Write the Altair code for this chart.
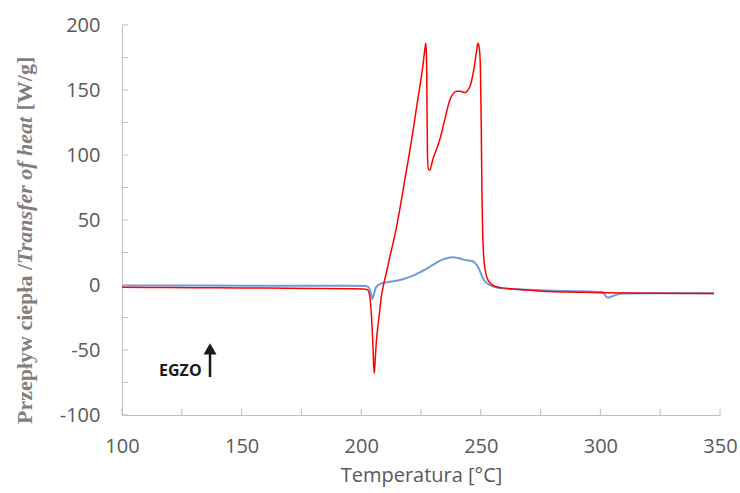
import altair as alt
import pandas as pd

# ---- data ----
red_t = [100, 120, 140, 160, 180, 195, 201, 202.5, 203.3, 204.3, 204.9, 205.4, 205.9, 206.4,
         207.1, 207.8, 208.4, 209.2, 210.6, 212.0, 213.3, 214.7, 216.1, 217.5, 218.9, 220.3,
         221.7, 223.1, 224.5, 225.6, 226.6, 227.0, 227.3, 227.5, 227.7, 228.1, 228.7, 230.0,
         231.4, 232.8, 234.9, 237.0, 238.4, 239.8, 241.5, 243.3, 244.4, 245.4, 246.5, 247.5,
         248.3, 248.8, 249.3, 249.8, 250.2, 250.5, 250.8, 251.2, 252.0, 253.0, 254.5, 256.5,
         260, 265, 270, 278.8, 290, 300, 310, 325, 347.5]
red_v = [-1.8, -2.0, -2.2, -2.4, -2.6, -2.8, -3.0, -3.6, -6, -24, -46, -68, -56, -42,
         -30, -19, -9, -1, 10, 21.8, 32, 44, 57.7, 73, 88, 103,
         119, 136, 152.5, 166, 181, 186, 176, 140, 100, 89, 88.5, 97,
         104, 111.5, 127, 142, 147, 149, 149, 148, 149.5, 152.5, 160, 170.5,
         181, 186, 183, 170, 120, 68, 40, 21.8, 10, 3.8, 0.5, -1.3,
         -2.4, -3.2, -3.9, -5.0, -5.5, -5.9, -6.2, -6.3, -6.5]

blue_t = [100, 130, 160, 190, 201.8, 203.0, 203.8, 204.7, 205.3, 206.0, 207.0, 208.5, 211,
          214.7, 218, 221.7, 225, 228.7, 231.5, 234.2, 236.5, 238.4, 240.5, 242.6, 244.8,
          246.7, 247.8, 248.8, 249.9, 250.9, 252.2, 253.7, 256, 259.3, 263.5, 270, 280, 290,
          301.0, 301.8, 302.9, 304.5, 306.5, 309.4, 320, 335, 347.5]
blue_v = [-0.3, -0.4, -0.5, -0.6, -0.7, -1.5, -4.5, -10.8, -7, -2.5, -0.3, 1.2, 2.2,
          3.2, 4.8, 7.2, 10.2, 14, 17.2, 19.7, 21, 21.4, 20.8, 19.7, 18.9,
          18.3, 16.5, 14, 9.5, 5.2, 2, 0, -1.6, -2.6, -3.1, -3.7, -4.4, -4.9,
          -5.4, -7.5, -9.7, -9.0, -7.6, -6.5, -6.3, -6.3, -6.4]

x_ticks = [100, 125, 150, 175, 200, 225, 250, 275, 300, 325, 350]
y_ticks = [-100, -75, -50, -25, 0, 25, 50, 75, 100, 125, 150, 175, 200]
x_labels = [100, 150, 200, 250, 300, 350]
y_labels = [-100, -50, 0, 50, 100, 150, 200]

x_title = "Temperatura [°C]"
y_title_parts = ["Przepływ ciepła /", "Transfer of heat", "[W/g]"]
note_text = "EGZO"
note_t = 115.5
note_v = -66.2
arrow_t = 136.8
arrow_v_start = -70.8
arrow_v_end = -52.0
arrow_head_v = -49.2

W, H = 598, 390
AXIS_GRAY = "#BFBFBF"
LABEL_GRAY = "#595959"
SANS = "Open Sans"

df_red = pd.DataFrame({"t": red_t, "v": red_v})
df_blue = pd.DataFrame({"t": blue_t, "v": blue_v})

xscale = alt.Scale(domain=[100, 350], nice=False, zero=False)
yscale = alt.Scale(domain=[-100, 200], nice=False, zero=False)

xaxis = alt.Axis(values=x_labels, grid=False, ticks=False, tickSize=0, domainColor=AXIS_GRAY,
                 labelFont=SANS, labelFontSize=20, labelColor=LABEL_GRAY, labelPadding=21,
                 labelFlush=False, labelExpr="'' + datum.value",
                 title=x_title, titleFont=SANS, titleFontSize=20, titleFontWeight="normal",
                 titleColor=LABEL_GRAY, titleY=60, titleBaseline="middle")
yaxis = alt.Axis(values=y_labels, grid=False, ticks=False, tickSize=0, domainColor=AXIS_GRAY,
                 labelFont=SANS, labelFontSize=20, labelColor=LABEL_GRAY, labelPadding=22,
                 labelFlush=False, labelExpr="'' + datum.value",
                 title=None)

blue = alt.Chart(df_blue).mark_line(color="#7099DC", strokeWidth=2, interpolate="monotone").encode(
    x=alt.X("t:Q", scale=xscale, axis=xaxis),
    y=alt.Y("v:Q", scale=yscale, axis=yaxis),
)
red = alt.Chart(df_red).mark_line(color="#FF0000", strokeWidth=1.5, interpolate="monotone").encode(
    x=alt.X("t:Q", scale=xscale),
    y=alt.Y("v:Q", scale=yscale),
)

xt = alt.Chart(pd.DataFrame({"t": x_ticks})).mark_rule(color=AXIS_GRAY, strokeWidth=1).encode(
    x=alt.X("t:Q", scale=xscale), y=alt.value(H), y2=alt.value(H - 6))
yt = alt.Chart(pd.DataFrame({"v": y_ticks})).mark_rule(color=AXIS_GRAY, strokeWidth=1).encode(
    y=alt.Y("v:Q", scale=yscale), x=alt.value(0), x2=alt.value(6))

# rotated y title made of three styled pieces
tx = -97.5
p1 = alt.Chart(pd.DataFrame({"s": [y_title_parts[0]]})).mark_text(
    angle=270, align="left", baseline="middle", font="Liberation Serif", fontSize=22,
    fontWeight="bold", color="#7F7F7F").encode(text="s:N", x=alt.value(tx), y=alt.value(399))
p2 = alt.Chart(pd.DataFrame({"s": [y_title_parts[1]]})).mark_text(
    angle=270, align="left", baseline="middle", font="Liberation Serif", fontSize=22,
    fontWeight="bold", fontStyle="italic", color="#7F7F7F").encode(
    text="s:N", x=alt.value(tx), y=alt.value(238.9))
p3 = alt.Chart(pd.DataFrame({"s": [y_title_parts[2]]})).mark_text(
    angle=270, align="left", baseline="middle", font="Liberation Serif", fontSize=22,
    fontWeight="bold", color="#7F7F7F").encode(text="s:N", x=alt.value(tx), y=alt.value(85.5))

note = alt.Chart(pd.DataFrame({"t": [note_t], "v": [note_v], "s": [note_text]})).mark_text(
    align="left", baseline="middle", font=SANS, fontSize=16, fontWeight="bold", color="#1A1A1A"
).encode(x=alt.X("t:Q", scale=xscale), y=alt.Y("v:Q", scale=yscale), text="s:N")
shaft = alt.Chart(pd.DataFrame({"t": [arrow_t], "v": [arrow_v_start], "v2": [arrow_v_end]})).mark_rule(
    color="#1A1A1A", strokeWidth=2.5).encode(
    x=alt.X("t:Q", scale=xscale), y=alt.Y("v:Q", scale=yscale), y2="v2:Q")
head = alt.Chart(pd.DataFrame({"t": [arrow_t], "v": [arrow_head_v]})).mark_point(
    shape="triangle-up", filled=True, size=169, color="#1A1A1A", opacity=1).encode(
    x=alt.X("t:Q", scale=xscale), y=alt.Y("v:Q", scale=yscale))

chart = alt.layer(blue, red, xt, yt, p1, p2, p3, note, shaft, head).properties(
    width=W, height=H,
    autosize=alt.AutoSizeParams(type="none"),
    padding={"left": 122, "top": 25, "right": 20, "bottom": 78},
    background="white",
).configure_view(stroke=None)

chart.save("out.html", embed_options={"renderer": "svg", "actions": False})
